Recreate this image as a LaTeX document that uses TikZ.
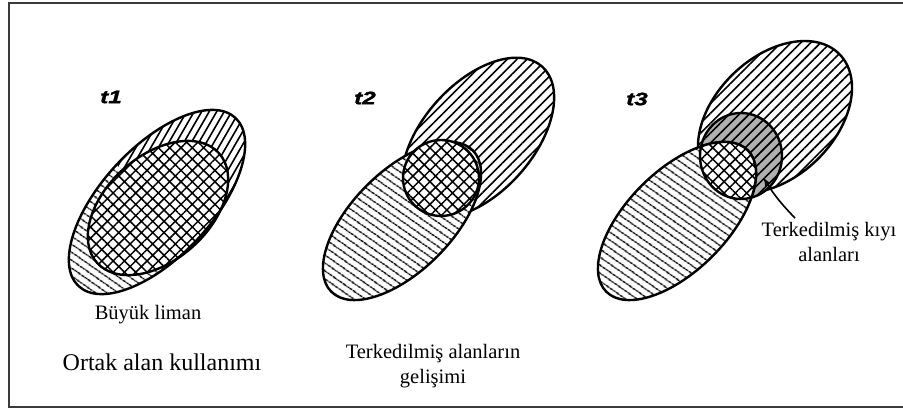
\documentclass[tikz,border=0pt]{standalone}
\usepackage{fontspec}
\setmainfont{Liberation Serif}
\newfontfamily\tagfont[FakeStretch=1.35,BoldItalicFeatures={FakeBold=1.5}]{Liberation Sans}
\usetikzlibrary{arrows.meta,patterns.meta}
\definecolor{framegray}{HTML}{3A3A3A}
\definecolor{shadegray}{HTML}{B0B0B0}

\begin{document}
\begin{tikzpicture}[x=1pt,y=1pt,
  rim/.style={line width=2.4pt},
  hatchline/.style={line width=1.6pt},
  foreline/.style={pattern={Lines[angle=45,distance=7pt,line width=1.6pt]}},
  backline/.style={pattern={Lines[angle=-35,distance=6.5pt,line width=1.6pt]}},
  crossgrid/.style={pattern={Hatch[angle=45,distance=8pt,line width=1.5pt]}},
  tag/.style={font=\tagfont\fontsize{18}{18}\selectfont\bfseries\itshape,inner sep=0pt},
  caption/.style={font=\fontsize{20.5}{25}\selectfont,inner sep=0pt,align=center}]
  \useasboundingbox (0,0) rectangle (903,408);
  \draw[framegray,line width=2pt] (9,1.5) rectangle (912,405);

  % t1: ortak alan
  \coordinate (c1) at (157,206);
  \coordinate (c1in) at (158,200);
  \begin{scope}
    \clip[rotate around={47:(c1)}] (c1) ellipse [x radius=115, y radius=55];
    \fill[backline,rotate around={47:(c1)}] (34,140) rectangle (157,272);
    \clip[rotate around={47:(c1)}] (157,140) rectangle (280,272);
    \foreach \k in {-22,...,22}
      \draw[hatchline,rotate around={60:(c1)}] (7,206+6.5*\k) -- (307,206+6.5*\k);
  \end{scope}
  \draw[rim,preaction={fill=white},crossgrid,rotate around={42:(c1in)}] (c1in) ellipse [x radius=82, y radius=52];
  \draw[rim,rotate around={47:(c1)}] (c1) ellipse [x radius=115, y radius=55];

  % t2: terkedilmis alanlar
  \coordinate (u2) at (478,270);
  \coordinate (l2) at (402,187);
  \coordinate (o2) at (441,230);
  \draw[rim,preaction={fill=white},foreline,rotate around={48:(u2)}] (u2) ellipse [x radius=96, y radius=55];
  \draw[rim,preaction={fill=white},backline,rotate around={45:(l2)}] (l2) ellipse [x radius=100, y radius=50];
  \draw[rim,preaction={fill=white},crossgrid] (o2) circle [radius=38];

  % t3: terkedilmis kiyi alanlari
  \coordinate (u3) at (775,291);
  \coordinate (l3) at (677,187);
  \coordinate (o3) at (741,252);
  \draw[rim,preaction={fill=white},foreline,rotate around={44:(u3)}] (u3) ellipse [x radius=90, y radius=60];
  \fill[shadegray] (o3) ellipse [x radius=41, y radius=43];
  \fill[foreline] (o3) ellipse [x radius=41, y radius=43];
  \draw[rim,preaction={fill=white},backline,rotate around={45:(l3)}] (l3) ellipse [x radius=100, y radius=50];
  \begin{scope}
    \clip[rotate around={45:(l3)}] (l3) ellipse [x radius=100, y radius=50];
    \fill[white] (o3) ellipse [x radius=41, y radius=43];
    \fill[crossgrid] (o3) ellipse [x radius=41, y radius=43];
  \end{scope}
  \draw[rim] (o3) ellipse [x radius=41, y radius=43];
  \begin{scope}
    \clip (o3) ellipse [x radius=41, y radius=43];
    \draw[rim,rotate around={45:(l3)}] (l3) ellipse [x radius=100, y radius=50];
  \end{scope}

  % labels
  \node[tag] (tag1) at (111,311) {t1};
  \node[tag] (tag2) at (365,310) {t2};
  \node[tag] (tag3) at (637,309) {t3};
  \node[caption] (liman) at (148,93) {Büyük liman};
  \node[font=\fontsize{24}{28}\selectfont,inner sep=0pt] (ortak) at (162,46) {Ortak alan kullanımı};
  \node[caption] (gelisim) at (433,42) {Terkedilmiş alanların\\gelişimi};
  \node[caption] (kiyi) at (829,166) {Terkedilmiş kıyı\\alanları};
  \coordinate (kiyiuc) at (763,231);
  \draw[line width=1.6pt,-{Latex[length=9pt,width=6pt]}] ([xshift=-34pt,yshift=4pt]kiyi.north) to[bend left=6] (kiyiuc);
\end{tikzpicture}
\end{document}
